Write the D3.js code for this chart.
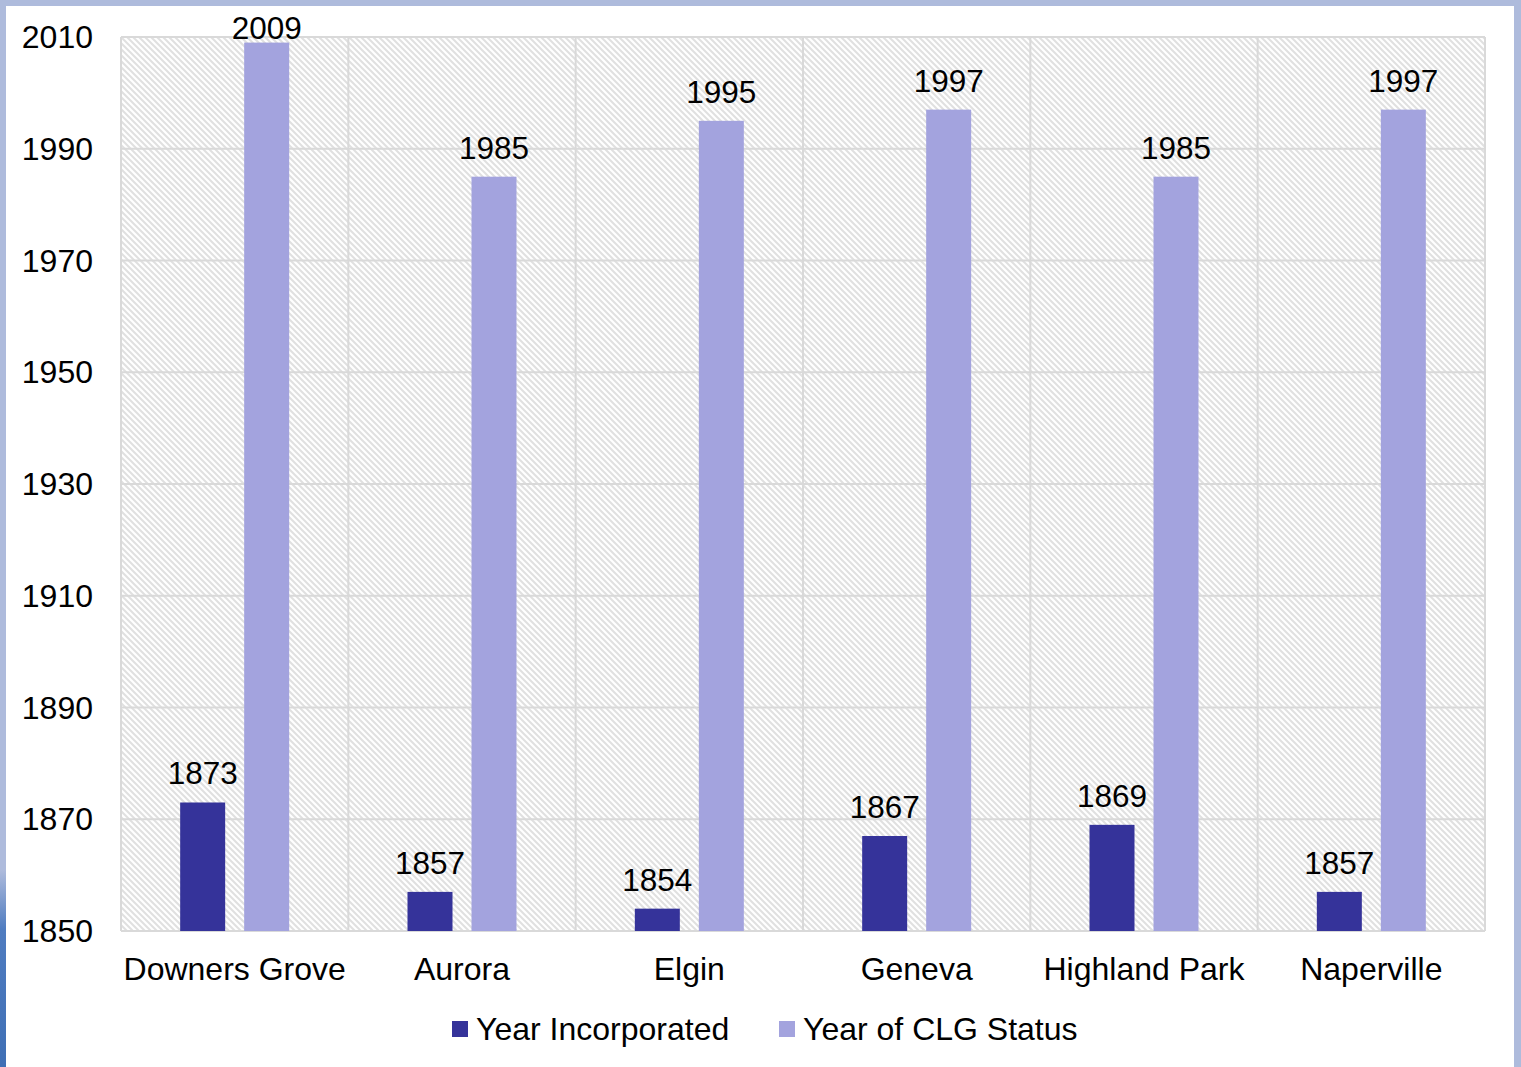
<!DOCTYPE html>
<html>
<head>
    <meta charset="utf-8">
    <title>CLG</title>
    <script src="https://d3js.org/d3.v7.min.js"></script>
    <style>
        body { margin: 0; background: #aebbdc; }
        text { font-family: "Liberation Sans", Arial, sans-serif; fill: #000; }
    </style>
</head>
<body>
<div id="chart"></div>
<script>
    // data
    let towns = ["Downers Grove", "Aurora", "Elgin", "Geneva", "Highland Park", "Naperville"];
    let yearIncorporated = [1873, 1857, 1854, 1867, 1869, 1857];
    let yearCLG = [2009, 1985, 1995, 1997, 1985, 1997];
    let seriesNames = ["Year Incorporated", "Year of CLG Status"];
    let colors = ["#35339a", "#a3a3de"];
    let yTicks = [1850, 1870, 1890, 1910, 1930, 1950, 1970, 1990, 2010];

    let W = 1521, H = 1067;
    let plotL = 121, plotR = 1485, plotT = 37, plotB = 931;

    let svg = d3.select("#chart").append("svg")
        .attr("width", W).attr("height", H)
        .style("display", "block");

    let defs = svg.append("defs");
    let pat = defs.append("pattern")
        .attr("id", "hatch")
        .attr("patternUnits", "userSpaceOnUse")
        .attr("width", 6).attr("height", 6);
    pat.append("rect").attr("width", 6).attr("height", 6).attr("fill", "#fff");
    pat.append("path")
        .attr("d", "M-1,-1 L7,7 M-1,5 L1,7 M5,-1 L7,1")
        .attr("stroke", "#e0e0e0").attr("stroke-width", 2);

    let grad = defs.append("linearGradient").attr("id", "swoosh")
        .attr("x1", 0).attr("y1", 0).attr("x2", 0).attr("y2", 1);
    grad.append("stop").attr("offset", "0%").attr("stop-color", "#aebbdc");
    grad.append("stop").attr("offset", "30%").attr("stop-color", "#4f7cc0");
    grad.append("stop").attr("offset", "100%").attr("stop-color", "#3f6fb5");

    // frame
    svg.append("rect").attr("x", 0).attr("y", 0).attr("width", W).attr("height", H).attr("fill", "#aebbdc");
    svg.append("rect").attr("x", 0).attr("y", 870).attr("width", 6).attr("height", H - 870).attr("fill", "url(#swoosh)");
    svg.append("rect").attr("x", 6).attr("y", 6).attr("width", 1508).attr("height", H - 6).attr("fill", "#fff");

    let x = d3.scaleBand().domain(towns).range([plotL, plotR]).paddingInner(0).paddingOuter(0);
    let y = d3.scaleLinear().domain([1850, 2010]).range([plotB, plotT]);

    // plot area
    svg.append("rect")
        .attr("x", plotL).attr("y", plotT)
        .attr("width", plotR - plotL).attr("height", plotB - plotT)
        .attr("fill", "url(#hatch)");

    // gridlines
    svg.append("g").selectAll("line")
        .data(yTicks)
        .join("line")
        .attr("x1", plotL).attr("x2", plotR)
        .attr("y1", d => y(d)).attr("y2", d => y(d))
        .attr("stroke", "#d9d9d9").attr("stroke-width", 2);

    let bounds = towns.map(t => x(t)).concat([plotR]);
    svg.append("g").selectAll("line")
        .data(bounds)
        .join("line")
        .attr("x1", d => d).attr("x2", d => d)
        .attr("y1", plotT).attr("y2", plotB)
        .attr("stroke", "#d9d9d9").attr("stroke-width", 2);

    // y axis labels
    svg.append("g").selectAll("text")
        .data(yTicks)
        .join("text")
        .attr("x", 93)
        .attr("y", d => y(d))
        .attr("dy", "0.35em")
        .attr("text-anchor", "end")
        .attr("font-size", 32)
        .text(d => d);

    // bars
    let barW = 45, gap = 19;
    let series = [yearIncorporated, yearCLG];
    series.forEach((vals, s) => {
        let g = svg.append("g");
        let bx = (i) => x(towns[i]) + x.bandwidth() / 2 - barW - gap / 2 + s * (barW + gap);
        g.selectAll("rect")
            .data(vals)
            .join("rect")
            .attr("x", (d, i) => bx(i))
            .attr("y", d => y(d))
            .attr("width", barW)
            .attr("height", d => y(1850) - y(d))
            .attr("fill", colors[s]);
        g.selectAll("text")
            .data(vals)
            .join("text")
            .attr("x", (d, i) => bx(i) + barW / 2)
            .attr("y", d => Math.max(y(d) - 18, 39))
            .attr("text-anchor", "middle")
            .attr("font-size", 31.5)
            .text(d => d);
    });

    // category labels
    svg.append("g").selectAll("text")
        .data(towns)
        .join("text")
        .attr("x", d => x(d) + x.bandwidth() / 2)
        .attr("y", 980)
        .attr("text-anchor", "middle")
        .attr("font-size", 32)
        .text(d => d);

    // legend
    let legX = [452, 779];
    let leg = svg.append("g");
    seriesNames.forEach((name, i) => {
        leg.append("rect")
            .attr("x", legX[i]).attr("y", 1021)
            .attr("width", 16).attr("height", 16)
            .attr("fill", colors[i]);
        leg.append("text")
            .attr("x", legX[i] + 24).attr("y", 1040)
            .attr("font-size", 32)
            .text(name);
    });
</script>
</body>
</html>
